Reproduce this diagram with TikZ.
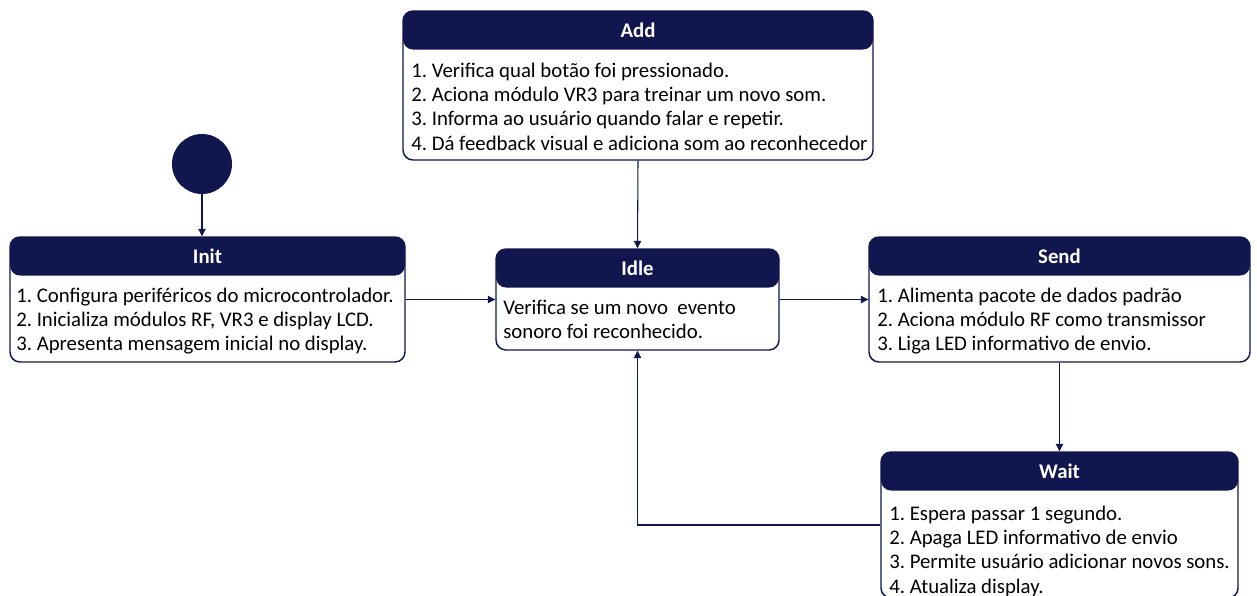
\documentclass[tikz,border=0pt]{standalone}
\usepackage{fontspec}
\setmainfont{Carlito}
\usetikzlibrary{arrows.meta,fit}
\definecolor{navy}{HTML}{11164F}
\frenchspacing
\tikzset{
  statebox/.style={draw=navy, line width=1.1pt, rounded corners=7.5pt, inner sep=0pt,
    path picture={\fill[navy] (path picture bounding box.north west)
      rectangle ([yshift=-28.9pt]path picture bounding box.north east);}},
  statetitle/.style={text=white, font=\fontsize{15.6pt}{18.2pt}\selectfont\bfseries, inner sep=0pt},
  statebody/.style={anchor=north west, align=left, inner sep=0pt,
    font=\fontsize{15.6pt}{18.2pt}\selectfont},
  initdot/.style={circle, fill=navy, draw=none, minimum size=45pt, inner sep=0pt},
  trans/.style={draw=navy, line width=0.8pt, -{Triangle[length=5.5pt,width=5.5pt]}},
}
\begin{document}
\begin{tikzpicture}[x=0.75pt, y=-0.75pt]
  \clip (0,0) rectangle (1257,596);

  % initial pseudo-state
  \node[initdot] (start) at (202,164) {};

  % state boxes
  \node[statebox, fit={(10,237) (405,362)}] (init) {};
  \node[statebox, fit={(403,11) (873,160)}] (add) {};
  \node[statebox, fit={(496,249) (779,350)}] (idle) {};
  \node[statebox, fit={(869,237) (1250,362)}] (send) {};
  \node[statebox, fit={(881,452) (1238,598)}] (wait) {};

  % titles
  \node[statetitle] (init-t) at (207.5,256) {Init};
  \node[statetitle] (add-t)  at (638,30)    {Add};
  \node[statetitle] (idle-t) at (637.5,268) {Idle};
  \node[statetitle] (send-t) at (1059.5,256) {Send};
  \node[statetitle] (wait-t) at (1059.5,471) {Wait};

  % bodies
  \node[statebody] (init-b) at (16,285) {\strut 1. Configura periféricos do microcontrolador.\\
    2. Inicializa módulos RF, VR3 e display LCD.\\
    3. Apresenta mensagem inicial no display.};
  \node[statebody] (add-b) at (411,60) {\strut 1. Verifica qual botão foi pressionado.\\
    2. Aciona módulo VR3 para treinar um novo som.\\
    3. Informa ao usuário quando falar e repetir.\\
    4. Dá feedback visual e adiciona som ao reconhecedor};
  \node[statebody] (idle-b) at (503,297) {\strut Verifica se um novo\ \ evento\\
    sonoro foi reconhecido.};
  \node[statebody] (send-b) at (877,285) {\strut 1. Alimenta pacote de dados padrão\\
    2. Aciona módulo RF como transmissor\\
    3. Liga LED informativo de envio.};
  \node[statebody] (wait-b) at (889,503) {\strut 1. Espera passar 1 segundo.\\
    2. Apaga LED informativo de envio\\
    3. Permite usuário adicionar novos sons.\\
    4. Atualiza display.};

  % transitions
  \draw[trans] (start.south) -- (start.south |- init.north);
  \draw[trans] (init.east) -- (idle.west);
  \draw[trans] (add.south) -- (idle.north);
  \draw[trans] (idle.east) -- (send.west);
  \draw[trans] (send.south) -- (wait.north);
  \draw[trans] (wait.west) -| (idle.south);
\end{tikzpicture}
\end{document}
